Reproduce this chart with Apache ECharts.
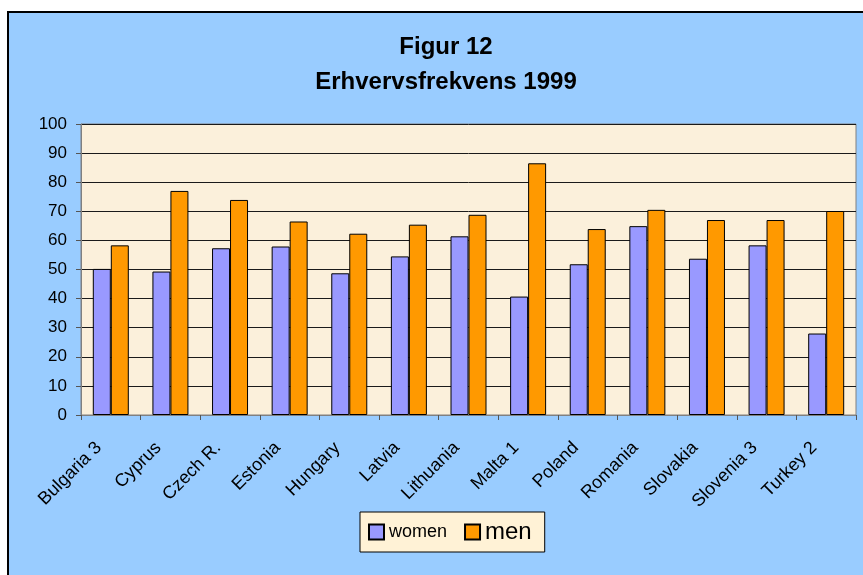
<!DOCTYPE html>
<html>
<head>
<meta charset="utf-8">
<script src="https://cdn.jsdelivr.net/npm/echarts@6/dist/echarts.min.js"></script>
<style>
  html, body { margin: 0; padding: 0; background: #fff; }
  #frame {
    position: absolute; left: 7px; top: 11px; width: 856px; height: 564px;
    background: #99CCFF; border-left: 2px solid #000; border-top: 2px solid #000;
  }
  #chart { position: absolute; left: 0; top: 0; width: 863px; height: 575px; }
</style>
</head>
<body>
<div id="frame"></div>
<div id="chart"></div>
<script>
// Erhvervsfrekvens 1999
const countries = ['Bulgaria 3', 'Cyprus', 'Czech R.', 'Estonia', 'Hungary', 'Latvia', 'Lithuania',
  'Malta 1', 'Poland', 'Romania', 'Slovakia', 'Slovenia 3', 'Turkey 2'];
const women = [50.2, 49.3, 57.3, 57.9, 48.7, 54.5, 61.4, 40.7, 51.8, 64.9, 53.7, 58.3, 28.0];
const men = [58.3, 77.0, 73.9, 66.5, 62.3, 65.4, 68.8, 86.5, 63.9, 70.5, 67.0, 67.0, 70.1];
const yTicks = { min: 0, max: 100, step: 10 };

const font = '"Liberation Sans", Arial, sans-serif';

const chart = echarts.init(document.getElementById('chart'));
chart.setOption({
  backgroundColor: 'transparent',
  animation: false,
  title: {
    text: 'Figur 12\nErhvervsfrekvens 1999',
    left: 441,
    top: 25,
    textAlign: 'center',
    textStyle: { fontFamily: font, fontSize: 24, fontWeight: 'bold', color: '#000', lineHeight: 35 }
  },
  legend: {
    left: 360,
    top: 512,
    padding: [8, 13, 8, 8],
    itemWidth: 15,
    itemHeight: 15,
    itemGap: 17,
    backgroundColor: '#FFF2D6',
    borderColor: '#000',
    borderWidth: 1,
    borderRadius: 0,
    icon: 'rect',
    formatter: function (name) {
      return name === 'men' ? '{m|men}' : '{w|women}';
    },
    textStyle: {
      fontFamily: font,
      color: '#000',
      rich: {
        w: { fontFamily: font, fontSize: 18, color: '#000' },
        m: { fontFamily: font, fontSize: 24, color: '#000' }
      }
    },
    data: ['women', 'men']
  },
  grid: {
    left: 81, right: 7, top: 124, bottom: 160,
    show: true,
    backgroundColor: '#FBF0DB',
    borderColor: '#808080',
    borderWidth: 1
  },
  xAxis: {
    type: 'category',
    data: countries,
    axisLine: { lineStyle: { color: '#808080', width: 1 } },
    axisTick: { show: true, length: 5, lineStyle: { color: '#555' } },
    axisLabel: {
      rotate: 45, fontFamily: font, fontSize: 18, color: '#000',
      margin: 18, interval: 0, padding: [0, 17, 0, 0]
    }
  },
  yAxis: {
    type: 'value',
    min: yTicks.min,
    max: yTicks.max,
    interval: yTicks.step,
    axisLine: { show: true, lineStyle: { color: '#808080', width: 1 } },
    axisTick: { show: true, length: 5, lineStyle: { color: '#555' } },
    axisLabel: { fontFamily: font, fontSize: 17, color: '#000', margin: 14 },
    splitLine: { show: true, lineStyle: { color: '#1a1a1a', width: 1 } }
  },
  series: [
    {
      name: 'women',
      type: 'bar',
      data: women,
      barWidth: 18,
      barGap: '0%',
      itemStyle: { color: '#9999FF', borderColor: '#000', borderWidth: 1 }
    },
    {
      name: 'men',
      type: 'bar',
      data: men,
      barWidth: 18,
      itemStyle: { color: '#FF9900', borderColor: '#000', borderWidth: 1 }
    }
  ]
});
</script>
</body>
</html>
